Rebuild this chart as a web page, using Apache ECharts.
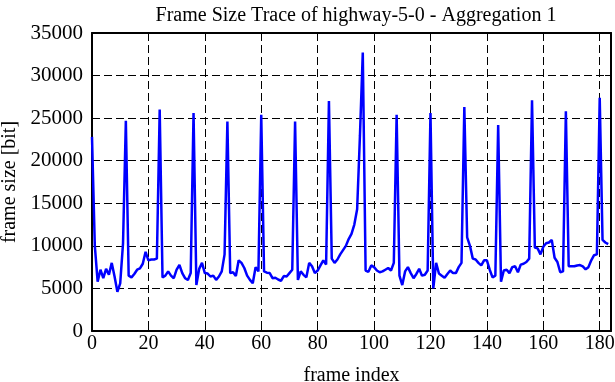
<!DOCTYPE html>
<html>
<head>
<meta charset="utf-8">
<script src="https://cdn.jsdelivr.net/npm/echarts@6/dist/echarts.min.js"></script>
<style>html,body{margin:0;padding:0;background:#fff}#c{width:615px;height:382px}</style>
</head>
<body>
<div id="c"></div>
<script>
const titleText = "Frame Size Trace of highway-5-0 - Aggregation 1";
const xName = "frame index";
const yName = "frame size [bit]";
const xTickLabels = [0, 20, 40, 60, 80, 100, 120, 140, 160, 180];
const yTickLabels = [0, 5000, 10000, 15000, 20000, 25000, 30000, 35000];
const frameSizes = [
22800,10000,5800,7200,6200,7300,6600,8000,6400,4600,5600,10300,
24700,6500,6300,6700,7200,7350,7900,9300,8300,8400,8400,8500,
26000,6300,6500,7000,6500,6200,7200,7750,6800,6200,6000,6800,
25600,5400,7300,8000,6800,6750,6400,6500,6000,6400,7000,9000,
24600,6800,6900,6450,8300,8000,7400,6500,6000,5600,7500,7000,
25400,7000,6850,6800,6200,6250,6050,5900,6450,6400,6800,7200,
24600,6000,7000,6600,6300,8000,7600,6800,7100,7700,8300,7800,
27000,8500,8000,8400,9000,9500,10000,10800,11400,12500,14300,23000,
32700,7100,6950,7700,7500,7100,6900,7000,7200,7400,7100,8000,
25400,6500,5400,7000,7500,6800,6200,6700,7300,6500,6600,7100,
25600,5000,8000,6750,6500,6250,6700,7100,6800,6800,7500,8000,
26300,11000,10000,8500,8400,8000,7700,8300,8300,7200,6300,6500,
24200,5800,7100,7200,6800,7500,7600,6900,7800,7900,8100,8500,
27100,9800,9700,9000,9900,10300,10400,10700,8600,8100,6900,7000,
25800,7600,7600,7600,7700,7750,7600,7250,7500,8300,8900,9000,
27400,10700,10400,10200
];

const FONT = "'Liberation Serif', 'DejaVu Serif', serif";
const xTickSet = new Set(xTickLabels);
const ySet = new Set(yTickLabels);
const chart = echarts.init(document.getElementById('c'), null, {renderer: 'canvas'});
const dash = {type: [8, 4], color: '#000', width: 1};
chart.setOption({
  animation: false,
  backgroundColor: '#fff',
  title: {
    text: titleText, left: 351, top: 1, textAlign: 'center',
    textStyle: {fontFamily: FONT, fontSize: 20, fontWeight: 'normal', color: '#000'}
  },
  grid: {left: 92, right: 4, top: 33, bottom: 51, containLabel: false, outerBoundsMode: 'none'},
  xAxis: [{
    type: 'value', min: 0, max: 184, interval: 20, position: 'bottom',
    name: xName, nameLocation: 'middle', nameGap: 35,
    nameTextStyle: {fontFamily: FONT, fontSize: 20, color: '#000'},
    axisLine: {show: true, onZero: false, lineStyle: {color: '#000', width: 2}},
    axisTick: {show: true, inside: true, length: 6, lineStyle: {color: '#000', width: 1}},
    axisLabel: {fontFamily: FONT, fontSize: 20, color: '#000', margin: 3,
      formatter: v => xTickSet.has(v) ? String(v) : ''},
    splitLine: {show: true, lineStyle: dash}
  }, {
    type: 'value', min: 0, max: 184, interval: 20, position: 'top',
    axisLine: {show: true, onZero: false, lineStyle: {color: '#000', width: 2}},
    axisTick: {show: true, inside: true, length: 6, lineStyle: {color: '#000', width: 1}},
    axisLabel: {show: false}, splitLine: {show: false}
  }],
  yAxis: [{
    type: 'value', min: 0, max: 35000, interval: 5000, position: 'left',
    name: yName, nameLocation: 'middle', nameGap: 69, nameRotate: 90,
    nameTextStyle: {fontFamily: FONT, fontSize: 20, color: '#000'},
    axisLine: {show: true, onZero: false, lineStyle: {color: '#000', width: 2}},
    axisTick: {show: true, inside: true, length: 6, lineStyle: {color: '#000', width: 1}},
    axisLabel: {fontFamily: FONT, fontSize: 21, color: '#000', margin: 9,
      formatter: v => ySet.has(v) ? String(v) : ''},
    splitLine: {show: true, lineStyle: dash}
  }, {
    type: 'value', min: 0, max: 35000, interval: 5000, position: 'right',
    axisLine: {show: true, onZero: false, lineStyle: {color: '#000', width: 2}},
    axisTick: {show: true, inside: true, length: 6, lineStyle: {color: '#000', width: 1}},
    axisLabel: {show: false}, splitLine: {show: false}
  }],
  series: [{
    type: 'line', xAxisIndex: 0, yAxisIndex: 0,
    data: frameSizes.map((v, i) => [i, v]),
    showSymbol: false, symbol: 'none',
    lineStyle: {color: '#0000ff', width: 2.5},
    z: 5
  }]
});
</script>
</body>
</html>
